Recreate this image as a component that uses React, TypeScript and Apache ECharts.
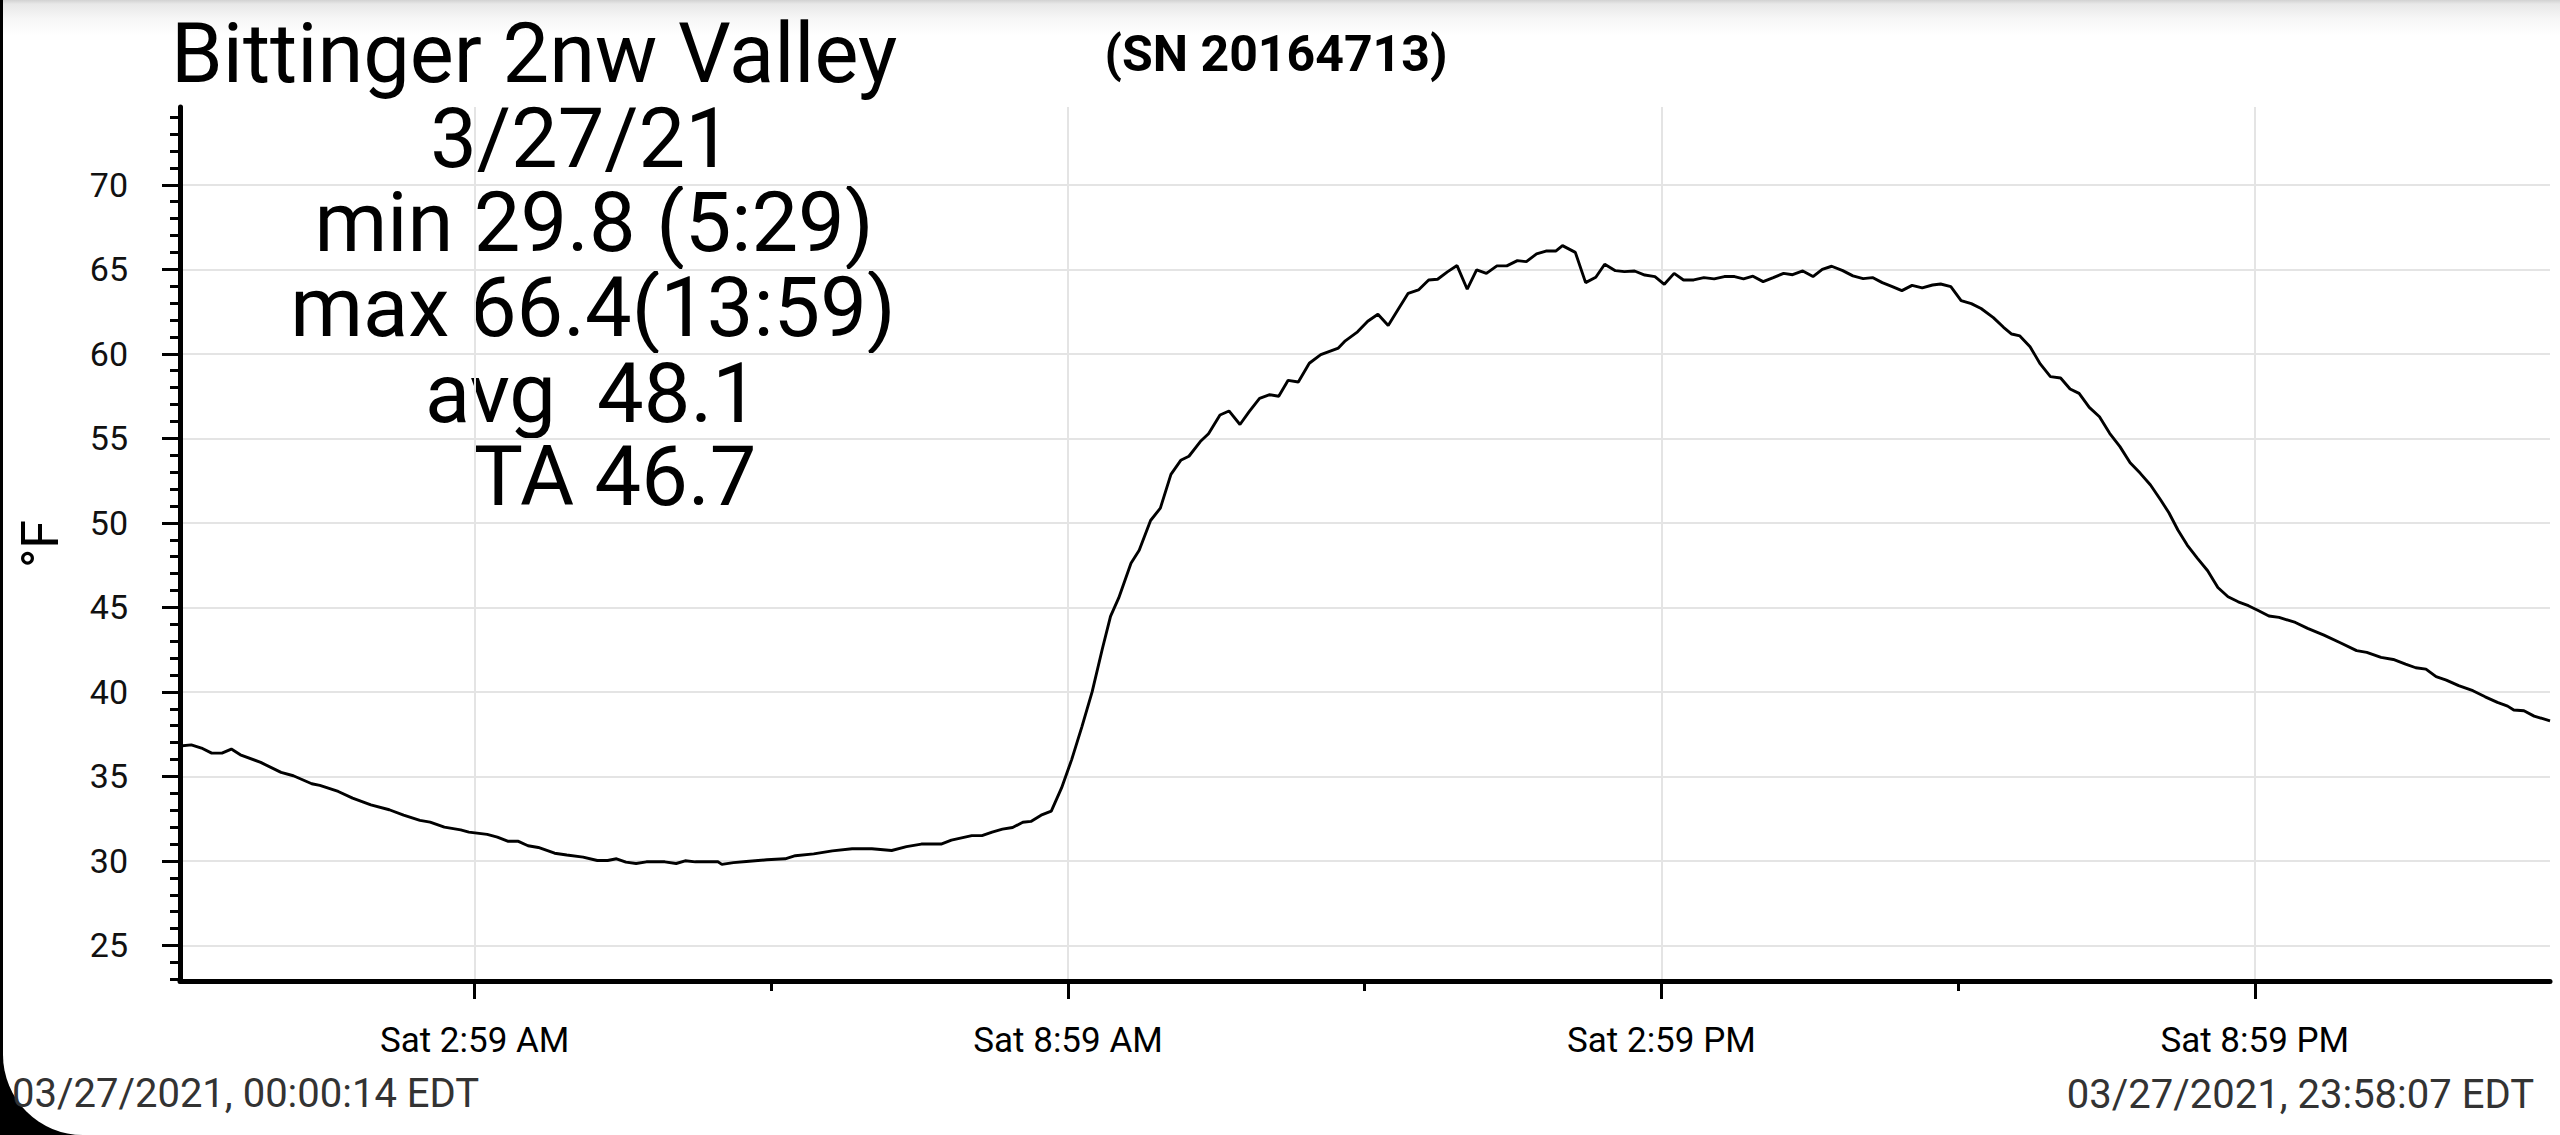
import React, { useEffect, useRef } from "react";
import * as echarts from "echarts";

// time of day in hours (00:00:14 .. 23:58:07)
const HOURS = [
  0.004, 0.118, 0.221, 0.324, 0.428, 0.523, 0.614, 0.82, 1.026, 1.15, 1.336, 1.418, 1.604, 1.749, 1.934,
  2.12, 2.265, 2.43, 2.533, 2.677, 2.842, 2.925, 3.11, 3.213, 3.317, 3.42, 3.523, 3.627, 3.792, 3.915,
  4.08, 4.224, 4.328, 4.418, 4.513, 4.616, 4.72, 4.906, 5.021, 5.112, 5.215, 5.443, 5.483, 5.6, 5.73,
  5.937, 6.123, 6.226, 6.412, 6.6, 6.8, 7.0, 7.2, 7.35, 7.5, 7.7, 7.804, 8.01, 8.113, 8.216, 8.32,
  8.423, 8.526, 8.608, 8.711, 8.814, 8.918, 9.021, 9.124, 9.227, 9.33, 9.413, 9.496, 9.62, 9.703,
  9.818, 9.917, 10.024, 10.123, 10.206, 10.321, 10.404, 10.52, 10.611, 10.722, 10.817, 10.92, 11.023,
  11.114, 11.209, 11.312, 11.423, 11.539, 11.717, 11.787, 11.911, 12.014, 12.117, 12.221, 12.316,
  12.423, 12.527, 12.63, 12.72, 12.823, 12.917, 13.02, 13.115, 13.214, 13.32, 13.42, 13.527, 13.618,
  13.721, 13.816, 13.915, 13.983, 14.113, 14.217, 14.32, 14.41, 14.518, 14.609, 14.712, 14.815,
  14.918, 15.013, 15.112, 15.207, 15.31, 15.413, 15.517, 15.62, 15.723, 15.814, 15.909, 16.012,
  16.115, 16.219, 16.31, 16.413, 16.516, 16.61, 16.705, 16.817, 16.92, 17.023, 17.118, 17.217,
  17.312, 17.415, 17.518, 17.621, 17.725, 17.807, 17.91, 18.014, 18.117, 18.216, 18.34, 18.443,
  18.525, 18.608, 18.711, 18.814, 18.917, 19.02, 19.116, 19.207, 19.31, 19.413, 19.516, 19.62,
  19.723, 19.826, 19.929, 20.032, 20.115, 20.206, 20.3, 20.404, 20.507, 20.61, 20.713, 20.816,
  20.919, 21.023, 21.126, 21.229, 21.394, 21.518, 21.683, 21.848, 22.013, 22.116, 22.26, 22.384,
  22.508, 22.611, 22.714, 22.817, 22.92, 23.045, 23.189, 23.313, 23.437, 23.54, 23.602, 23.705,
  23.808, 23.969,
];

// temperature, °F
const TEMPS = [
  36.8, 36.87, 36.68, 36.38, 36.38, 36.62, 36.28, 35.83, 35.24, 35.04, 34.57, 34.47, 34.11, 33.72, 33.32,
  33.03, 32.71, 32.4, 32.3, 32.0, 31.84, 31.71, 31.57, 31.41, 31.17, 31.17, 30.9, 30.8, 30.46, 30.35,
  30.23, 30.03, 30.03, 30.13, 29.93, 29.85, 29.95, 29.95, 29.85, 30.01, 29.95, 29.95, 29.8, 29.9, 29.97,
  30.07, 30.13, 30.31, 30.42, 30.6, 30.72, 30.72, 30.62, 30.85, 31.0, 31.0, 31.23, 31.5, 31.5, 31.71, 31.88,
  31.98, 32.29, 32.34, 32.71, 32.95, 34.32, 36.01, 37.95, 40.0, 42.54, 44.47, 45.56, 47.61, 48.38,
  50.14, 50.87, 52.87, 53.7, 53.94, 54.81, 55.27, 56.38, 56.62, 55.82, 56.59, 57.37, 57.58,
  57.49, 58.43, 58.33, 59.44, 59.95, 60.34, 60.77, 61.3, 61.93, 62.34, 61.67, 62.58,
  63.58, 63.78, 64.37, 64.41, 64.86, 65.22, 63.82, 64.96, 64.76, 65.2, 65.2, 65.51, 65.45,
  65.91, 66.08, 66.08, 66.4, 66.0, 64.21, 64.53, 65.3, 64.92, 64.86, 64.9, 64.66,
  64.57, 64.11, 64.76, 64.37, 64.37, 64.51, 64.43, 64.57, 64.57, 64.43, 64.59, 64.27,
  64.51, 64.76, 64.68, 64.9, 64.57, 65.0, 65.18, 64.92, 64.61, 64.45, 64.51, 64.21,
  63.99, 63.74, 64.05, 63.9, 64.07, 64.13, 63.97, 63.15, 62.97, 62.68, 62.14, 61.57,
  61.17, 61.06, 60.42, 59.4, 58.65, 58.57, 57.92, 57.66, 56.83, 56.28, 55.3, 54.51,
  53.56, 52.93, 52.24, 51.35, 50.6, 49.58, 48.69, 47.9, 47.17, 46.18, 45.63, 45.33,
  45.1, 44.8, 44.49, 44.41, 44.11, 43.76, 43.36, 42.91, 42.44, 42.34, 42.04, 41.92,
  41.65, 41.43, 41.35, 40.9, 40.7, 40.37, 40.07, 39.71, 39.38, 39.16, 38.93, 38.89,
  38.57, 38.29,
];

const X_MIN = 0.0039; // 00:00:14
const X_MAX = 23.9686; // 23:58:07
const X_LABEL_HOURS = [2.9833, 8.9833, 14.9833, 20.9833];
const X_LABELS = ["Sat 2:59 AM", "Sat 8:59 AM", "Sat 2:59 PM", "Sat 8:59 PM"];
const X_MINOR_HOURS = [5.9833, 11.9833, 17.9833];

const Y_MIN = 22.9;
const Y_MAX = 74.6;
const Y_TICKS = [25, 30, 35, 40, 45, 50, 55, 60, 65, 70];
const Y_MINOR: number[] = [];
for (let v = 23; v <= 74; v++) if (v % 5 !== 0) Y_MINOR.push(v);

const TITLE = "Bittinger 2nw Valley";
const SERIAL = "(SN 20164713)";
const STAT_LINES = ["3/27/21", "min 29.8 (5:29)", "max 66.4(13:59)", "avg  48.1", "TA 46.7"];
const START_STAMP = "03/27/2021, 00:00:14 EDT";
const END_STAMP = "03/27/2021, 23:58:07 EDT";

const FONT = "Roboto, 'Noto Sans', sans-serif";

export default function App() {
  const ref = useRef<HTMLDivElement>(null);

  useEffect(() => {
    if (!ref.current) return;
    const chart = echarts.init(ref.current, null, { renderer: "svg" });
    const statX = [581, 594, 593, 592, 615];
    const statY = [138, 222, 307, 393, 476];
    const option: any = {
      animation: false,
      backgroundColor: "transparent",
      textStyle: { fontFamily: FONT },
      grid: { left: 180, right: 10, top: 107, bottom: 154, containLabel: false, outerBoundsMode: "none" },
      xAxis: [
        {
          type: "value",
          min: X_MIN,
          max: X_MAX,
          position: "bottom",
          axisLine: { show: true, onZero: false, lineStyle: { color: "#000", width: 5 } },
          axisTick: { show: true, length: 18, customValues: X_LABEL_HOURS, lineStyle: { color: "#000", width: 3 } },
          axisLabel: {
            show: true,
            customValues: X_LABEL_HOURS,
            margin: 42,
            fontSize: 35,
            lineHeight: 35,
            color: "#000",
            fontFamily: FONT,
            formatter: (v: number) => {
              let best = 0;
              for (let i = 1; i < X_LABEL_HOURS.length; i++) {
                if (Math.abs(X_LABEL_HOURS[i] - v) < Math.abs(X_LABEL_HOURS[best] - v)) best = i;
              }
              return X_LABELS[best];
            },
          },
          splitLine: { show: true, lineStyle: { color: "#e4e4e4", width: 2 } },
        },
        {
          type: "value",
          min: X_MIN,
          max: X_MAX,
          position: "bottom",
          offset: 0,
          axisLine: { show: false, onZero: false },
          axisTick: { show: true, length: 10, customValues: X_MINOR_HOURS, lineStyle: { color: "#000", width: 3 } },
          axisLabel: { show: false },
          splitLine: { show: false },
        },
      ],
      yAxis: [
        {
          type: "value",
          min: Y_MIN,
          max: Y_MAX,
          position: "left",
          name: "°F",
          nameLocation: "middle",
          nameRotate: 90,
          nameGap: 140,
          nameTextStyle: { fontSize: 52, color: "#000", fontFamily: FONT, align: "center", verticalAlign: "middle" },
          axisLine: { show: true, onZero: false, lineStyle: { color: "#000", width: 5 } },
          axisTick: { show: true, length: 18, customValues: Y_TICKS, lineStyle: { color: "#000", width: 3 } },
          axisLabel: { show: true, customValues: Y_TICKS, margin: 52, fontSize: 34, color: "#111", fontFamily: FONT },
          splitLine: { show: true, lineStyle: { color: "#e4e4e4", width: 2 } },
        },
        {
          type: "value",
          min: Y_MIN,
          max: Y_MAX,
          position: "left",
          offset: 0,
          axisLine: { show: false, onZero: false },
          axisTick: { show: true, length: 10, customValues: Y_MINOR, lineStyle: { color: "#000", width: 3 } },
          axisLabel: { show: false },
          splitLine: { show: false },
        },
      ],
      series: [
        {
          type: "line",
          xAxisIndex: 0,
          yAxisIndex: 0,
          data: HOURS.map((h, i) => [h, TEMPS[i]]),
          showSymbol: false,
          symbol: "none",
          lineStyle: { color: "#000", width: 2.9 },
          emphasis: { disabled: true },
        },
      ],
      graphic: [
        {
          type: "text",
          x: 171,
          y: 53,
          style: { text: TITLE, fontSize: 83, lineHeight: 70, fontFamily: FONT, fill: "#000", align: "left", verticalAlign: "middle" },
        },
        {
          type: "text",
          x: 1276,
          y: 54,
          style: { text: SERIAL, fontSize: 50, lineHeight: 50, fontWeight: "bold", fontFamily: FONT, fill: "#000", align: "center", verticalAlign: "middle" },
        },
        ...STAT_LINES.map((t, i) => ({
          type: "text",
          x: statX[i],
          y: statY[i],
          style: { text: t, fontSize: 83, lineHeight: 70, fontFamily: FONT, fill: "#000", align: "center", verticalAlign: "middle" },
        })),
        {
          type: "text",
          x: 12,
          y: 1093,
          style: { text: START_STAMP, fontSize: 40, lineHeight: 40, fontFamily: FONT, fill: "#333", align: "left", verticalAlign: "middle" },
        },
        {
          type: "text",
          x: 2534,
          y: 1094,
          style: { text: END_STAMP, fontSize: 40, lineHeight: 40, fontFamily: FONT, fill: "#333", align: "right", verticalAlign: "middle" },
        },
      ],
    };
    chart.setOption(option);
    return () => chart.dispose();
  }, []);

  return (
    <div style={{ position: "fixed", left: 0, top: 0, width: 2560, height: 1135, background: "#000", overflow: "hidden" }}>
      <div
        style={{
          position: "absolute",
          left: 3,
          top: 0,
          width: 2557,
          height: 1135,
          borderBottomLeftRadius: 80,
          background: "linear-gradient(#d2d2d2 0px, #e8e8e8 4px, #f6f6f6 18px, #ffffff 36px)",
        }}
      />
      <div ref={ref} style={{ position: "absolute", left: 0, top: 0, width: 2560, height: 1135 }} />
    </div>
  );
}
